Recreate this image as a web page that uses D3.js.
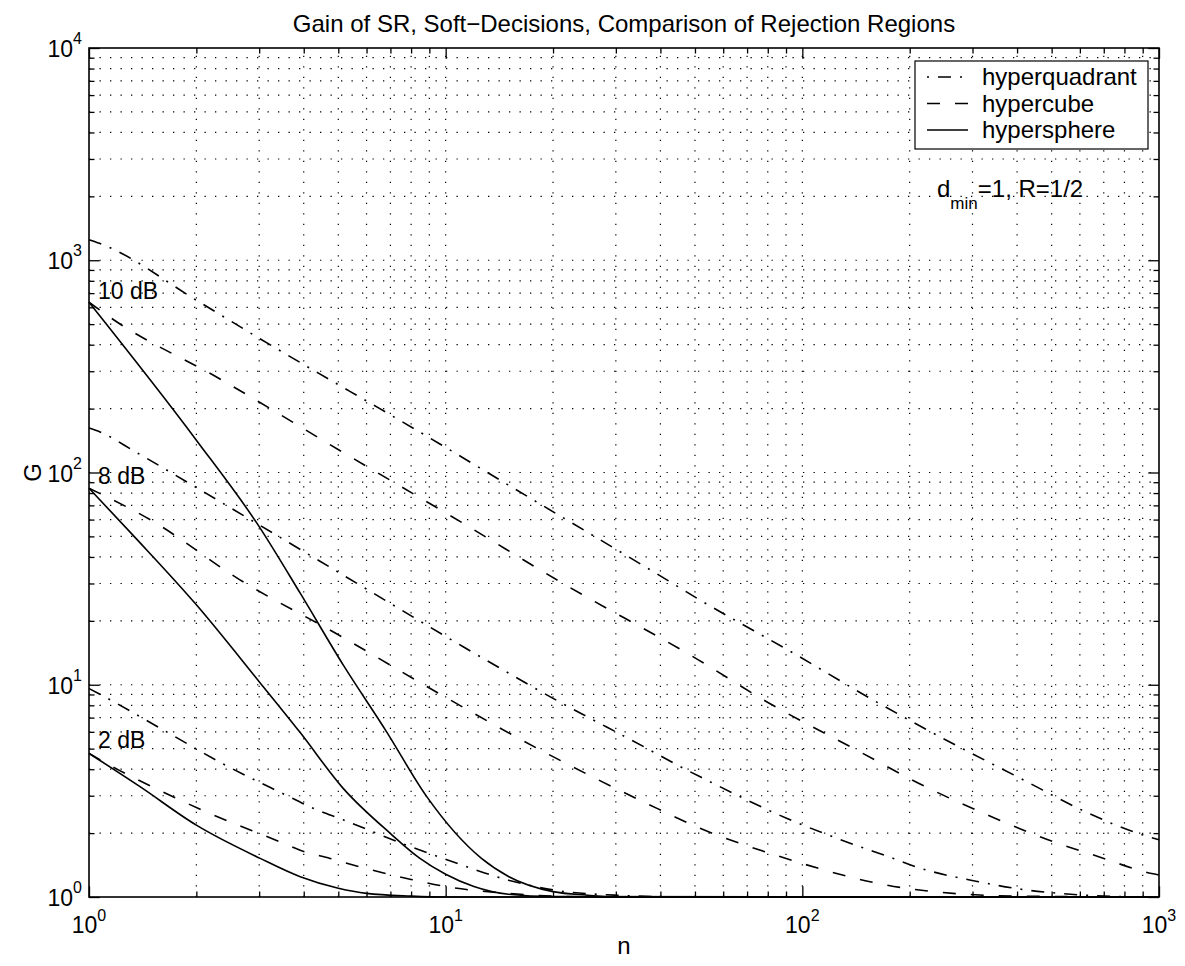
<!DOCTYPE html>
<html>
<head>
<meta charset="utf-8">
<script src="https://cdn.jsdelivr.net/npm/d3@7"></script>
<style>
  body { margin: 0; background: #fff; }
  svg { display: block; }
  text { font-family: "Liberation Sans", Arial, Helvetica, sans-serif; fill: #000; }
</style>
</head>
<body>
<svg id="chart"></svg>
<script>
// values, [n, G]
var hyperquadrant10 = [[1,1250],[1.07,1202],[2.03,638],[3,429],[4.41,293],[6.5,201],[9.58,137],[14.7,89],[41.7,31.2],[51.6,25.1],[94.3,14.1],[158,8.47],[243,5.69],[417,3.56],[607,2.57],[847,2.03],[1000,1.86]];
var hypercube10 = [[1,634],[1.175,523],[2.31,278],[5.13,125],[11.4,56.6],[20.9,30.6],[51.1,13.1],[79.4,8.32],[139,5.02],[223,3.29],[343,2.37],[484,1.87],[684,1.54],[953,1.29],[1000,1.27]];
var hypersphere10 = [[1,634],[2,142],[3,55.6],[3.91,27],[5.16,12.4],[6.83,6.0],[8.85,2.97],[12.6,1.52],[15,1.25],[20,1.06],[25,1.02],[30,1.0],[1000,1.0]];

var hyperquadrant8 = [[1,162],[1.067,156],[1.35,125],[2.39,71.1],[6.07,27.9],[11.2,15.1],[20,8.63],[36.6,5.02],[46.4,4.04],[52.8,3.62],[90.3,2.35],[139,1.77],[180,1.52],[205,1.40],[312,1.18],[425,1.079],[528,1.04],[700,1.01],[1000,1.0]];
var hypercube8 = [[1,84.3],[1.49,59.7],[2.65,31.2],[5.0,17.2],[9.85,8.85],[18.8,4.84],[36.6,2.76],[51.6,2.11],[85.6,1.56],[188,1.11],[225,1.067],[400,1.01],[1000,1.0]];
var hypersphere8 = [[1,84.3],[1.35,49.2],[2,23.8],[3.02,10.2],[3.91,5.95],[5.16,3.25],[6.98,2.0],[8.47,1.52],[10,1.28],[12,1.12],[15,1.03],[20,1.005],[1000,1.0]];

var hyperquadrant2 = [[1,9.6],[1.06,9.12],[1.616,6.12],[2.38,4.23],[3.51,3.06],[4.25,2.62],[5.16,2.31],[7.94,1.73],[9.85,1.52],[15,1.2],[20,1.08],[30,1.02],[50,1.0],[1000,1.0]];
var hypercube2 = [[1,4.75],[1.22,3.94],[1.375,3.56],[2.05,2.59],[3.51,1.79],[3.91,1.66],[4.74,1.52],[6,1.36],[8,1.21],[10,1.12],[15,1.04],[20,1.01],[30,1.0],[1000,1.0]];
var hypersphere2 = [[1,4.75],[1.39,3.31],[2,2.18],[3.02,1.52],[3.91,1.246],[5,1.1],[6,1.04],[8,1.01],[10,1.0],[1000,1.0]];

var snrLabels = ["10 dB", "8 dB", "2 dB"];
var snrLabelG = [660, 88, 5.05];   // G where each label's baseline sits, at n = 1
var legendNames = ["hyperquadrant", "hypercube", "hypersphere"];
var xMajor = [1, 10, 100, 1000];
var xExp = ["0", "1", "2", "3"];
var yMajor = [1, 10, 100, 1000, 10000];
var yExp = ["0", "1", "2", "3", "4"];
var titleText = "Gain of SR, Soft\u2212Decisions, Comparison of Rejection Regions";

var width = 1185, height = 966;
var margin = {top: 48, right: 26, bottom: 69, left: 89};
var w = width - margin.left - margin.right;
var h = height - margin.top - margin.bottom;

var dashStyle = {hyperquadrant: "13,9,2,9", hypercube: "13,15", hypersphere: null};

var series = [
    {name: "hyperquadrant", data: hyperquadrant10},
    {name: "hypercube", data: hypercube10},
    {name: "hypersphere", data: hypersphere10},
    {name: "hyperquadrant", data: hyperquadrant8},
    {name: "hypercube", data: hypercube8},
    {name: "hypersphere", data: hypersphere8},
    {name: "hyperquadrant", data: hyperquadrant2},
    {name: "hypercube", data: hypercube2},
    {name: "hypersphere", data: hypersphere2}
];

var svg = d3.select("#chart").attr("width", width).attr("height", height);
svg.append("rect").attr("width", width).attr("height", height).attr("fill", "white");

var xs = d3.scaleLog().domain([1, 1000]).range([0, w]);
var ys = d3.scaleLog().domain([1, 10000]).range([h, 0]);

var g = svg.append("g").attr("transform", "translate(" + margin.left + "," + margin.top + ")");

svg.append("defs").append("clipPath").attr("id", "plotclip")
    .append("rect").attr("x", -1).attr("y", -1).attr("width", w + 2).attr("height", h + 2);

// dotted grid, major and minor
var xMinor = xs.ticks().filter(v => xMajor.indexOf(v) < 0);
var yMinor = ys.ticks().filter(v => yMajor.indexOf(v) < 0);

g.append("g").selectAll("line")
    .data(xs.ticks().filter(v => v > 1 && v < 1000))
    .enter().append("line")
        .attr("x1", d => xs(d)).attr("x2", d => xs(d))
        .attr("y1", h).attr("y2", 0)
        .attr("stroke", "#000").attr("stroke-width", 1.2)
        .attr("stroke-dasharray", "1.3,9.2");

g.append("g").selectAll("line")
    .data(ys.ticks().filter(v => v > 1 && v < 10000))
    .enter().append("line")
        .attr("y1", d => ys(d)).attr("y2", d => ys(d))
        .attr("x1", 0).attr("x2", w)
        .attr("stroke", "#000").attr("stroke-width", 1.2)
        .attr("stroke-dasharray", "1.3,9.2");

// curves
var line = d3.line()
    .x(d => xs(d[0]))
    .y(d => ys(d[1]))
    .curve(d3.curveMonotoneX);

g.append("g").attr("clip-path", "url(#plotclip)")
    .selectAll("path")
    .data(series)
    .enter().append("path")
        .attr("d", d => line(d.data))
        .attr("fill", "none")
        .attr("stroke", "#000")
        .attr("stroke-width", 1.6)
        .attr("stroke-dasharray", d => dashStyle[d.name]);

// ticks on all four sides, pointing in
function ticks(axis, vals, size, tr) {
    var a = g.append("g").attr("transform", tr)
        .call(axis.tickValues(vals).tickSize(-size).tickSizeOuter(0).tickFormat(""));
    a.select(".domain").remove();
    a.selectAll("line").attr("stroke", "#000").attr("stroke-width", 1.3);
}
ticks(d3.axisBottom(xs), xMajor, 10.7, "translate(0," + h + ")");
ticks(d3.axisBottom(xs), xMinor, 5.5, "translate(0," + h + ")");
ticks(d3.axisTop(xs), xMajor, 10.7, "translate(0,0)");
ticks(d3.axisTop(xs), xMinor, 5.5, "translate(0,0)");
ticks(d3.axisLeft(ys), yMajor, 10.7, "translate(0,0)");
ticks(d3.axisLeft(ys), yMinor, 5.5, "translate(0,0)");
ticks(d3.axisRight(ys), yMajor, 10.7, "translate(" + w + ",0)");
ticks(d3.axisRight(ys), yMinor, 5.5, "translate(" + w + ",0)");

g.append("rect")
    .attr("width", w).attr("height", h)
    .attr("fill", "none").attr("stroke", "#000").attr("stroke-width", 1.6);

// tick labels 10^k
var xl = g.append("g").selectAll("text")
    .data(xMajor)
    .enter().append("text")
        .attr("x", d => xs(d))
        .attr("y", h + 36)
        .attr("text-anchor", "middle")
        .style("font-size", "23px");
xl.append("tspan").text("10");
xl.append("tspan").attr("dy", -12).style("font-size", "16px").text((d, i) => xExp[i]);

var yl = g.append("g").selectAll("text")
    .data(yMajor)
    .enter().append("text")
        .attr("x", -7)
        .attr("y", d => ys(d) + 9)
        .attr("text-anchor", "end")
        .style("font-size", "23px");
yl.append("tspan").text("10");
yl.append("tspan").attr("dy", -13).style("font-size", "16px").text((d, i) => yExp[i]);

// title and axis labels
svg.append("text")
    .attr("x", margin.left + w / 2)
    .attr("y", 32)
    .attr("text-anchor", "middle")
    .style("font-size", "24px")
    .text(titleText);

svg.append("text")
    .attr("x", margin.left + w / 2)
    .attr("y", 954)
    .attr("text-anchor", "middle")
    .style("font-size", "24px")
    .text("n");

svg.append("text")
    .attr("transform", "translate(41," + (margin.top + h / 2) + ") rotate(-90)")
    .attr("text-anchor", "middle")
    .style("font-size", "24px")
    .text("G");

// SNR labels next to the curves
g.append("g").selectAll("text")
    .data(snrLabels)
    .enter().append("text")
        .attr("x", xs(1) + 9)
        .attr("y", (d, i) => ys(snrLabelG[i]))
        .style("font-size", "23px")
        .text(d => d);

// d_min=1, R=1/2
var ann = g.append("text")
    .attr("x", 848)
    .attr("y", 149)
    .style("font-size", "24px");
ann.append("tspan").text("d");
ann.append("tspan").attr("dy", 12).style("font-size", "17px").text("min");
ann.append("tspan").attr("dy", -12).text("=1, R=1/2");

// legend
var lg = g.append("g").attr("transform", "translate(826,13)");
lg.append("rect")
    .attr("width", 233).attr("height", 88)
    .attr("fill", "white").attr("stroke", "#000").attr("stroke-width", 1.2);

var rows = lg.selectAll(".row")
    .data(legendNames)
    .enter().append("g")
        .attr("transform", (d, i) => "translate(0," + (16 + i * 26.5) + ")");

rows.append("line")
    .attr("x1", 12).attr("x2", 53)
    .attr("y1", 0).attr("y2", 0)
    .attr("stroke", "#000").attr("stroke-width", 1.6)
    .attr("stroke-dasharray", d => dashStyle[d])
    .attr("stroke-dashoffset", d => d == "hyperquadrant" ? 22 : 0);

rows.append("text")
    .attr("x", 67)
    .attr("y", 8)
    .style("font-size", "24px")
    .text(d => d);
</script>
</body>
</html>
